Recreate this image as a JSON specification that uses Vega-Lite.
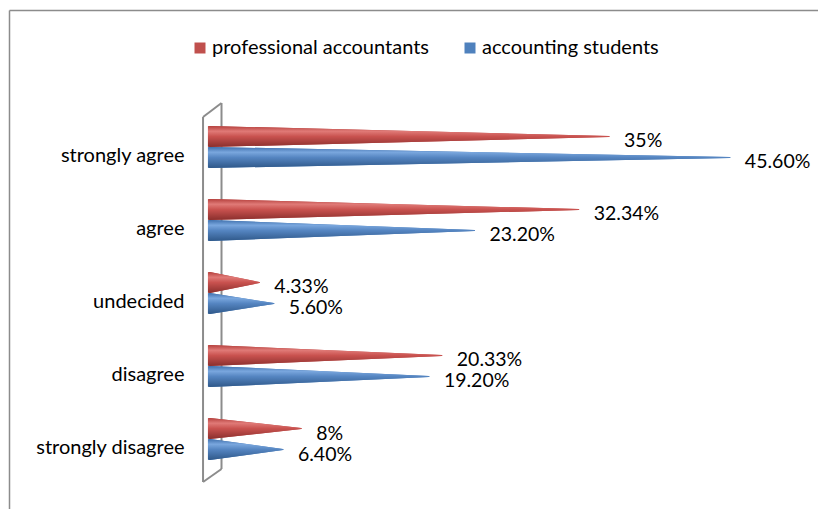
{
  "$schema": "https://vega.github.io/schema/vega-lite/v6.json",
  "width": 809,
  "height": 499,
  "autosize": {"type": "none"},
  "padding": {"left": 9, "top": 10, "right": 0, "bottom": 0},
  "background": "white",
  "config": {
    "view": {"stroke": null},
    "font": "Lato",
    "axisX": {"ticks": false, "labels": false, "grid": false, "domainColor": "#8c8c8c", "domainWidth": 1.5, "zindex": 1},
    "axisY": {"ticks": false, "tickSize": 0, "grid": false, "domainColor": "#8c8c8c", "domainWidth": 1.5, "labelPadding": -175, "labelAlign": "right", "labelFont": "Lato", "labelFontSize": 20, "labelColor": "#000000", "labelOffset": 9, "labelLimit": 300, "zindex": 1}
  },
  "data": {"values": [
    {"category": "strongly agree", "series": "professional accountants", "value": 35, "label": "35%"},
    {"category": "strongly agree", "series": "accounting students", "value": 45.6, "label": "45.60%"},
    {"category": "agree", "series": "professional accountants", "value": 32.34, "label": "32.34%"},
    {"category": "agree", "series": "accounting students", "value": 23.2, "label": "23.20%"},
    {"category": "undecided", "series": "professional accountants", "value": 4.33, "label": "4.33%"},
    {"category": "undecided", "series": "accounting students", "value": 5.6, "label": "5.60%"},
    {"category": "disagree", "series": "professional accountants", "value": 20.33, "label": "20.33%"},
    {"category": "disagree", "series": "accounting students", "value": 19.2, "label": "19.20%"},
    {"category": "strongly disagree", "series": "professional accountants", "value": 8, "label": "8%"},
    {"category": "strongly disagree", "series": "accounting students", "value": 6.4, "label": "6.40%"}
  ]},
  "layer": [
    {
      "data": {"values": [{}]},
      "mark": {"type": "rule", "color": "#8c8c8c", "strokeWidth": 2, "yOffset": -44, "y2Offset": 30},
      "encoding": {
        "x": {"datum": 1.01, "type": "quantitative", "scale": {"domain": [-17.63, 53.33], "nice": false, "zero": false}},
        "y": {"datum": "strongly agree", "type": "nominal", "scale": {"domain": ["strongly agree", "agree", "undecided", "disagree", "strongly disagree"], "paddingInner": 0, "paddingOuter": 0.9178, "align": 0.75}},
        "y2": {"datum": "strongly disagree"}
      }
    },
    {
      "transform": [
        {"filter": "datum.series === 'professional accountants'"},
        {"calculate": "0", "as": "zero"},
        {"fold": ["zero", "value"], "as": ["end", "x"]}
      ],
      "mark": {"type": "trail", "yOffset": -10.5},
      "encoding": {
        "x": {"field": "x", "type": "quantitative", "title": null, "scale": {"domain": [-17.63, 53.33], "nice": false, "zero": false}, "axis": {"orient": "top", "title": null}},
        "y": {"field": "category", "type": "nominal", "title": null, "scale": {"domain": ["strongly agree", "agree", "undecided", "disagree", "strongly disagree"], "paddingInner": 0, "paddingOuter": 0.9178, "align": 0.75}, "axis": {"title": null}},
        "detail": {"field": "category"},
        "color": {"field": "series", "type": "nominal", "scale": {"domain": ["professional accountants", "accounting students"], "range": ["#C0504D", "#4F81BD"]},
          "legend": {"orient": "none", "legendX": 181, "legendY": 28, "direction": "horizontal", "title": null, "symbolType": "square", "symbolSize": 121, "labelFont": "Lato", "labelFontSize": 20, "labelColor": "#000000", "labelLimit": 500, "columnPadding": 31, "labelOffset": 2,
            "encode": {"symbols": {"update": {"fill": {"scale": "color", "field": "value"}, "stroke": {"value": null}, "strokeWidth": {"value": 0}, "opacity": {"value": 1}}}}}},
        "size": {"condition": {"test": "datum.end === 'zero'", "value": 21}, "value": 0}
      }
    },
    {
      "transform": [
        {"filter": "datum.series === 'accounting students'"},
        {"calculate": "0", "as": "zero"},
        {"fold": ["zero", "value"], "as": ["end", "x"]}
      ],
      "mark": {"type": "trail", "yOffset": 10.5},
      "encoding": {
        "x": {"field": "x", "type": "quantitative", "title": null, "scale": {"domain": [-17.63, 53.33], "nice": false, "zero": false}},
        "y": {"field": "category", "type": "nominal", "title": null},
        "detail": {"field": "category"},
        "color": {"field": "series", "type": "nominal"},
        "size": {"condition": {"test": "datum.end === 'zero'", "value": 21}, "value": 0}
      }
    },
    {
      "transform": [
        {"filter": "datum.series === 'professional accountants'"},
        {"calculate": "0", "as": "zero"},
        {"fold": ["zero", "value"], "as": ["end", "x"]}
      ],
      "mark": {"type": "trail", "yOffset": -10.5, "fill": {"gradient": "linear", "x1": 0, "y1": 0, "x2": 0, "y2": 1, "stops": [{"offset": 0, "color": "#b5403d"}, {"offset": 0.25, "color": "#e07a77"}, {"offset": 0.5, "color": "#c9524f"}, {"offset": 1, "color": "#8a2f2d"}]}},
      "encoding": {
        "x": {"field": "x", "type": "quantitative", "title": null},
        "y": {"field": "category", "type": "nominal", "title": null},
        "detail": {"field": "category"},
        "size": {"condition": {"test": "datum.end === 'zero'", "value": 21}, "value": 0}
      }
    },
    {
      "transform": [
        {"filter": "datum.series === 'accounting students'"},
        {"calculate": "0", "as": "zero"},
        {"fold": ["zero", "value"], "as": ["end", "x"]}
      ],
      "mark": {"type": "trail", "yOffset": 10.5, "fill": {"gradient": "linear", "x1": 0, "y1": 0, "x2": 0, "y2": 1, "stops": [{"offset": 0, "color": "#3f70ad"}, {"offset": 0.25, "color": "#7aa7de"}, {"offset": 0.5, "color": "#5585c1"}, {"offset": 1, "color": "#2f5889"}]}},
      "encoding": {
        "x": {"field": "x", "type": "quantitative", "title": null},
        "y": {"field": "category", "type": "nominal", "title": null},
        "detail": {"field": "category"},
        "size": {"condition": {"test": "datum.end === 'zero'", "value": 21}, "value": 0}
      }
    },
    {
      "mark": {"type": "rect", "color": "white"},
      "encoding": {
        "x": {"datum": -1.1, "type": "quantitative"},
        "x2": {"datum": -0.2},
        "y": {"field": "category", "type": "nominal", "title": null}
      }
    },
    {
      "data": {"values": [{}]},
      "mark": {"type": "rule", "color": "#8c8c8c", "strokeWidth": 2, "yOffset": -30, "y2Offset": 43},
      "encoding": {
        "x": {"datum": -0.61, "type": "quantitative"},
        "y": {"datum": "strongly agree", "type": "nominal"},
        "y2": {"datum": "strongly disagree"}
      }
    },
    {
      "data": {"values": [{}]},
      "mark": {"type": "rule", "color": "#8c8c8c", "strokeWidth": 2, "yOffset": -30, "y2Offset": -44},
      "encoding": {
        "x": {"datum": -0.61, "type": "quantitative"},
        "x2": {"datum": 1.01},
        "y": {"datum": "strongly agree", "type": "nominal"},
        "y2": {"datum": "strongly agree"}
      }
    },
    {
      "data": {"values": [{}]},
      "mark": {"type": "rule", "color": "#8c8c8c", "strokeWidth": 2, "yOffset": 43, "y2Offset": 30},
      "encoding": {
        "x": {"datum": -0.61, "type": "quantitative"},
        "x2": {"datum": 1.01},
        "y": {"datum": "strongly disagree", "type": "nominal"},
        "y2": {"datum": "strongly disagree"}
      }
    },
    {
      "transform": [{"filter": "datum.series === 'professional accountants'"}],
      "mark": {"type": "text", "align": "left", "baseline": "middle", "dx": 15, "dy": 5, "yOffset": -10.5, "font": "Lato", "fontSize": 19.5, "color": "#000000"},
      "encoding": {
        "x": {"field": "value", "type": "quantitative", "title": null},
        "y": {"field": "category", "type": "nominal", "title": null},
        "text": {"field": "label"}
      }
    },
    {
      "transform": [{"filter": "datum.series === 'accounting students'"}],
      "mark": {"type": "text", "align": "left", "baseline": "middle", "dx": 15, "dy": 5, "yOffset": 10.5, "font": "Lato", "fontSize": 19.5, "color": "#000000"},
      "encoding": {
        "x": {"field": "value", "type": "quantitative", "title": null},
        "y": {"field": "category", "type": "nominal", "title": null},
        "text": {"field": "label"}
      }
    }
  ]
}
